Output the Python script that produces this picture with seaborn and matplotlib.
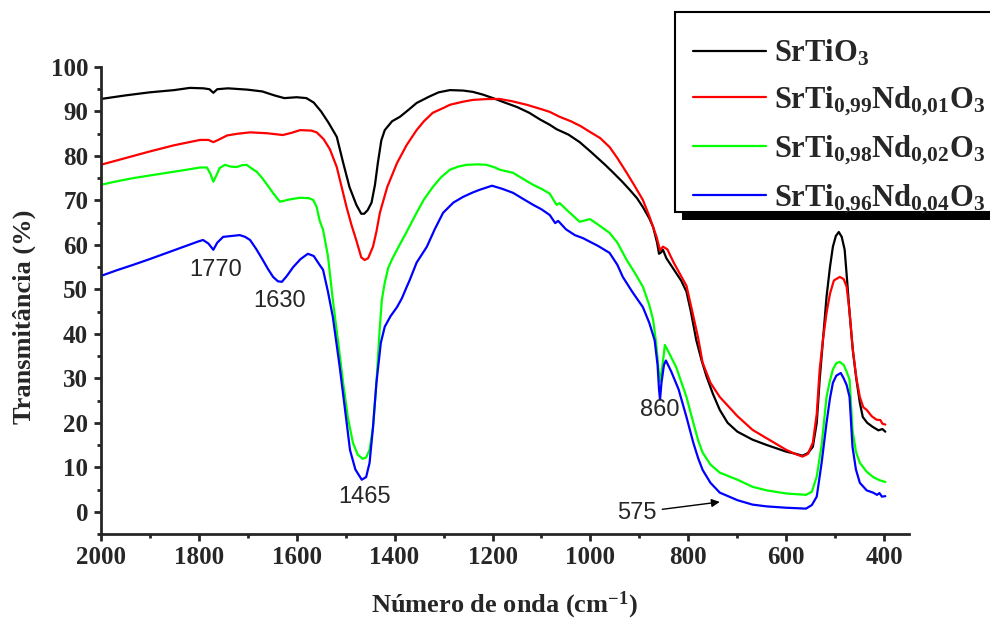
import numpy as np
import pandas as pd
import matplotlib
matplotlib.use("Agg")
import matplotlib.pyplot as plt
from matplotlib.patches import Rectangle
from matplotlib.ticker import MultipleLocator
import seaborn as sns

# --- data (wavenumber in cm-1, transmittance in %) ---
wn_srtio3 = [2000, 1950, 1900, 1850, 1818, 1790, 1778, 1770, 1762, 1740, 1700, 1670, 1645, 1625,
             1600, 1580, 1565, 1550, 1535, 1518, 1505, 1492, 1478, 1468, 1462, 1455, 1447, 1440,
             1434, 1427, 1420, 1405, 1389, 1370, 1355, 1330, 1310, 1287, 1260, 1240, 1220, 1199,
             1175, 1150, 1125, 1103, 1083, 1069, 1045, 1022, 1000, 988, 970, 955, 935, 920, 905,
             893, 880, 872, 864, 860, 856, 852, 845, 830, 815, 804, 795, 784, 773, 763, 750, 736,
             720, 700, 669, 640, 600, 580, 567, 556, 546, 538, 532, 525, 518, 511, 505, 499, 493,
             487, 481, 476, 471, 464, 457, 450, 444, 435, 424, 412, 404, 398]
t_srtio3 = [92.8, 93.6, 94.3, 94.8, 95.3, 95.2, 95.0, 94.2, 95.0, 95.2, 94.9, 94.5, 93.6, 93.0,
            93.2, 93.0, 92.0, 90.0, 87.5, 84.3, 78.5, 73.0, 69.0, 67.0, 67.0, 67.8, 69.5, 73.5,
            78.5, 83.5, 85.8, 87.8, 88.8, 90.5, 91.9, 93.3, 94.3, 94.8, 94.7, 94.4, 93.8, 93.0,
            92.0, 91.0, 89.7, 88.2, 87.0, 86.0, 84.8, 83.1, 81.0, 79.8, 78.0, 76.4, 74.2, 72.4, 70.5,
            68.5, 66.0, 64.0, 60.5, 58.0, 58.3, 58.9, 57.0, 54.5, 52.0, 49.5, 45.0, 38.6, 34.0, 30.4,
            26.5, 22.9, 20.0, 18.0, 16.2, 15.0, 13.5, 13.0, 12.6, 13.2, 14.6, 20.0, 29.7, 39.0, 48.3,
            55.0, 59.6, 62.0, 62.9, 61.8, 58.9, 52.0, 44.7, 36.0, 29.7, 24.5, 21.3, 20.0, 19.1, 18.3,
            18.6, 18.0]

wn_nd01 = [2000, 1950, 1900, 1850, 1797, 1780, 1770, 1760, 1742, 1720, 1695, 1660, 1628, 1610,
           1593, 1570, 1559, 1545, 1532, 1518, 1508, 1498, 1488, 1478, 1468, 1461, 1454, 1444,
           1437, 1430, 1415, 1395, 1375, 1355, 1340, 1322, 1300, 1287, 1260, 1240, 1210, 1185,
           1160, 1130, 1100, 1083, 1063, 1040, 1020, 1001, 980, 961, 945, 926, 910, 893, 880, 865,
           858, 852, 843, 830, 815, 804, 790, 780, 771, 755, 736, 700, 669, 640, 600, 580, 567,
           556, 546, 538, 532, 525, 518, 511, 503, 491, 483, 477, 471, 465, 457, 450, 443, 436,
           426, 416, 408, 404, 398]
t_nd01 = [78.0, 79.5, 81.0, 82.4, 83.6, 83.6, 83.1, 83.6, 84.6, 85.0, 85.3, 85.1, 84.7, 85.2,
          85.8, 85.7, 85.3, 83.8, 81.5, 77.5, 73.0, 68.5, 64.5, 61.0, 57.2, 56.6, 57.0, 59.6,
          63.0, 67.2, 73.0, 78.4, 82.5, 85.8, 87.8, 89.7, 90.8, 91.5, 92.2, 92.6, 92.8, 92.8,
          92.3, 91.5, 90.5, 89.9, 88.8, 87.8, 86.7, 85.4, 84.0, 82.0, 79.5, 76.2, 73.3, 70.1, 66.5,
          61.8, 58.8, 59.6, 59.0, 56.0, 53.0, 50.8, 44.0, 39.0, 33.5, 29.0, 25.8, 21.5, 18.4, 16.5,
          13.9, 12.9, 12.4, 13.0, 15.5, 22.0, 32.0, 39.0, 44.7, 49.0, 52.0, 52.8, 52.3, 50.6, 45.0,
          37.0, 30.0, 25.8, 23.5, 22.9, 21.5, 20.7, 20.6, 19.8, 19.6]

wn_nd02 = [2000, 1967, 1934, 1900, 1865, 1830, 1797, 1783, 1776, 1770, 1763, 1757, 1746, 1735,
           1722, 1712, 1702, 1692, 1681, 1670, 1660, 1647, 1634, 1615, 1593, 1575, 1566, 1559,
           1553, 1546, 1536, 1526, 1515, 1505, 1495, 1485, 1475, 1465, 1458, 1451, 1444, 1437,
           1431, 1426, 1420, 1413, 1405, 1395, 1375, 1355, 1340, 1322, 1305, 1287, 1270, 1253,
           1230, 1212, 1195, 1185, 1158, 1140, 1117, 1100, 1083, 1072, 1069, 1063, 1045, 1022,
           1001, 985, 961, 945, 926, 910, 893, 880, 872, 866, 861, 858, 854, 848, 840, 825, 804,
           790, 780, 771, 755, 736, 700, 669, 640, 600, 560, 548, 538, 528, 518, 511, 505, 498,
           491, 483, 477, 471, 465, 458, 450, 436, 423, 410, 398]
t_nd02 = [73.5, 74.3, 75.0, 75.6, 76.2, 76.8, 77.4, 77.4, 76.0, 74.2, 75.8, 77.3, 78.0, 77.6,
          77.5, 77.9, 78.0, 77.2, 76.4, 75.0, 73.5, 71.5, 69.7, 70.2, 70.6, 70.5, 70.1, 68.5,
          65.5, 63.4, 57.5, 47.6, 38.0, 29.0, 21.0, 15.5, 12.8, 11.9, 12.2, 13.9, 19.0, 29.0,
          40.0, 47.6, 51.5, 54.8, 56.8, 58.9, 63.0, 67.2, 70.2, 73.0, 75.2, 76.9, 77.6, 78.0,
          78.1, 78.0, 77.4, 76.9, 76.2, 75.0, 73.5, 72.6, 71.5, 69.5, 69.0, 69.4, 67.5, 65.2,
          65.8, 64.6, 62.7, 60.5, 56.6, 53.8, 50.6, 46.5, 43.1, 38.0, 32.0, 29.3, 32.0, 37.5, 35.8,
          32.5, 25.8, 20.0, 16.0, 13.3, 10.6, 8.8, 7.2, 5.6, 4.8, 4.1, 3.8, 4.5, 7.9, 15.0, 25.8,
          29.5, 32.0, 33.4, 33.7, 33.0, 31.5, 29.7, 18.4, 13.5, 11.0, 9.0, 7.8, 7.1, 6.7]

wn_nd04 = [2000, 1967, 1934, 1900, 1865, 1830, 1800, 1791, 1780, 1770, 1762, 1750, 1733, 1716,
           1705, 1695, 1682, 1669, 1658, 1648, 1638, 1630, 1620, 1607, 1592, 1577, 1565, 1553,
           1546, 1536, 1526, 1512, 1500, 1491, 1480, 1467, 1458, 1451, 1444, 1437, 1428, 1420,
           1408, 1395, 1385, 1375, 1369, 1355, 1334, 1318, 1301, 1280, 1260, 1240, 1226, 1201,
           1180, 1158, 1140, 1117, 1100, 1083, 1072, 1066, 1050, 1032, 1015, 1001, 985, 961, 945,
           934, 915, 893, 880, 869, 863, 860, 858, 855, 850, 846, 835, 820, 804, 790, 780, 771,
           755, 736, 700, 669, 640, 600, 560, 548, 538, 528, 518, 511, 505, 498, 489, 483, 477,
           471, 465, 458, 450, 436, 423, 415, 410, 405, 398]
t_nd04 = [53.0, 54.3, 55.5, 56.8, 58.2, 59.6, 60.8, 61.1, 60.3, 58.9, 60.5, 61.8, 62.0, 62.2,
          61.8, 61.1, 59.0, 56.6, 54.5, 52.8, 51.8, 51.7, 53.0, 55.0, 56.8, 58.0, 57.5, 55.5,
          54.4, 49.5, 43.8, 32.6, 22.0, 13.9, 9.5, 7.2, 7.8, 11.0, 19.0, 29.0, 38.0, 41.6,
          44.0, 46.0, 48.0, 50.6, 52.1, 56.0, 59.6, 63.5, 67.2, 69.5, 70.8, 71.8, 72.4, 73.3,
          72.6, 71.7, 70.5, 69.0, 68.0, 66.7, 64.9, 65.4, 63.5, 62.2, 61.5, 60.7, 59.8, 58.2, 55.5,
          52.8, 49.5, 46.0, 42.5, 38.6, 33.0, 27.5, 25.2, 29.0, 33.0, 34.0, 31.5, 27.5, 21.3, 15.5,
          12.0, 9.4, 6.5, 4.3, 2.6, 1.6, 1.2, 0.9, 0.7, 1.5, 3.4, 11.0, 20.0, 25.5, 29.0, 30.6,
          31.2, 30.0, 28.5, 25.8, 14.6, 9.5, 6.5, 4.8, 4.3, 3.8, 4.2, 3.4, 3.5]

labels = [r'$\mathbf{SrTiO_3}$',
          r'$\mathbf{SrTi_{0{,}99}Nd_{0{,}01}O_3}$',
          r'$\mathbf{SrTi_{0{,}98}Nd_{0{,}02}O_3}$',
          r'$\mathbf{SrTi_{0{,}96}Nd_{0{,}04}O_3}$']
colors = ['#000000', '#ff0000', '#00ff00', '#0000ff']

# peak labels and where they sit (wavenumber, transmittance)
peak_text = ['1770', '1630', '1465', '860', '575']
peak_pos = [(1765, 54.4), (1634, 47.4), (1461, 3.4), (858, 22.9), (906, -0.2)]

frames = []
for lab, w, t in zip(labels, [wn_srtio3, wn_nd01, wn_nd02, wn_nd04],
                     [t_srtio3, t_nd01, t_nd02, t_nd04]):
    frames.append(pd.DataFrame({'wn': w, 'T': t, 'amostra': lab}))
df = pd.concat(frames, ignore_index=True)

sns.set_style("ticks")
plt.rcParams['font.family'] = ['Liberation Serif', 'DejaVu Serif']
plt.rcParams['mathtext.fontset'] = 'custom'
plt.rcParams['mathtext.rm'] = 'Liberation Serif:bold'
plt.rcParams['mathtext.bf'] = 'Liberation Serif:bold'
plt.rcParams['mathtext.it'] = 'Liberation Serif:bold:italic'

fig = plt.figure(figsize=(9.9, 6.26), dpi=100)
ax = fig.add_axes([0.1017, 0.147, 0.8163, 0.746])

sns.lineplot(data=df, x='wn', y='T', hue='amostra', palette=colors, sort=False,
             estimator=None, linewidth=1.6, legend=False, ax=ax)

ax.set_xlim(2000, 350)
ax.set_ylim(-5, 100)
ax.set_xticks(np.arange(400, 2001, 200))
ax.set_yticks(np.arange(0, 101, 10))
ax.xaxis.set_minor_locator(MultipleLocator(100))
ax.yaxis.set_minor_locator(MultipleLocator(5))
for s in ['top', 'right']:
    ax.spines[s].set_visible(False)
for s in ['left', 'bottom']:
    ax.spines[s].set_linewidth(2)
ax.tick_params(which='major', direction='out', length=5, width=2, labelsize=18, pad=4)
ax.tick_params(which='minor', direction='out', length=3, width=2)
for lbl in ax.get_xticklabels() + ax.get_yticklabels():
    lbl.set_fontweight('bold')

ax.set_xlabel(r'Número de onda (cm$^{\mathbf{-1}}$)', fontsize=19, fontweight='bold')
ax.set_ylabel('Transmitância (%)', fontsize=19, fontweight='bold')
ax.xaxis.set_label_coords(0.5, -0.12)
ax.yaxis.set_label_coords(-0.08, 0.466)

for txt, pos in zip(peak_text[:4], peak_pos[:4]):
    ax.text(pos[0], pos[1], txt, ha='center', va='center', fontsize=17,
            family='Liberation Sans')
ax.annotate(peak_text[4], xy=(736, 2.2), xytext=peak_pos[4], ha='center', va='center',
            fontsize=17, family='Liberation Sans',
            arrowprops=dict(arrowstyle='-|>', color='k', lw=1, mutation_scale=12,
                            shrinkA=2, shrinkB=0))

# legend frame with a hard shadow, running off the right edge
W, H = 990, 626
fig.patches.append(Rectangle((682 / W, 1 - 220 / H), 400 / W, 200 / H, transform=fig.transFigure,
                             facecolor='black', edgecolor='none', zorder=5))
fig.patches.append(Rectangle((675 / W, 1 - 212 / H), 400 / W, 200 / H, transform=fig.transFigure,
                             facecolor='white', edgecolor='black', linewidth=1.5, zorder=6))
handles = [plt.Line2D([], [], color=c, lw=1.6) for c in colors]
leg = fig.legend(handles, labels, loc='upper left', bbox_to_anchor=(693 / W, 1 - 38 / H),
                 frameon=False, fontsize=22, handlelength=2.4, handletextpad=0.25,
                 labelspacing=0.5, borderpad=0, borderaxespad=0)
leg.set_zorder(7)

fig.savefig('out.png', dpi=100)
